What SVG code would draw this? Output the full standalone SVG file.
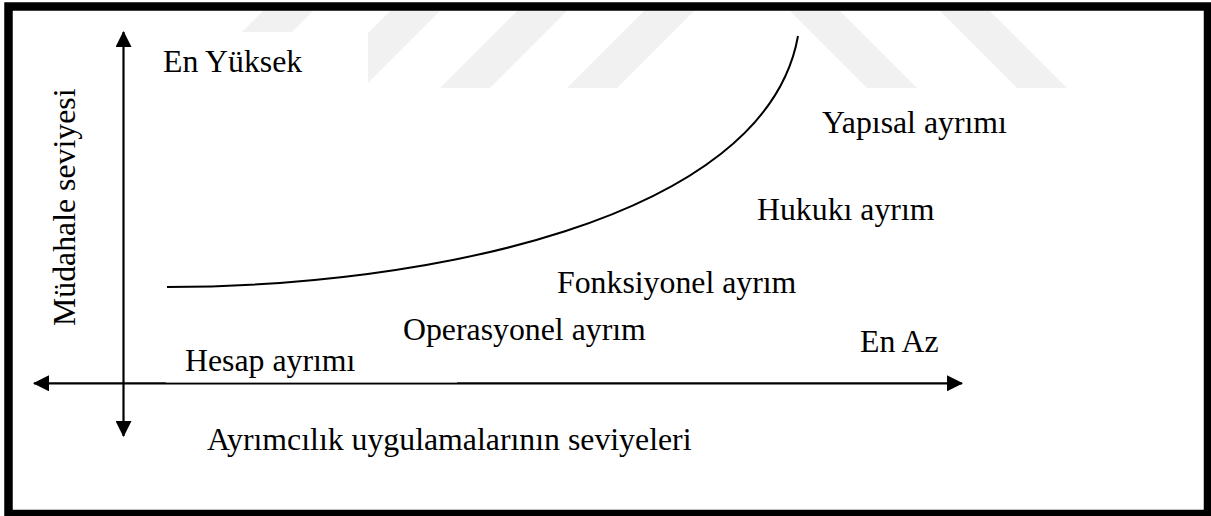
<svg xmlns="http://www.w3.org/2000/svg" width="1211" height="516" viewBox="0 0 1211 516">
  <style>
    .t { font-family: "Liberation Serif", "Times New Roman", serif; font-size: 31.8px; fill: #000; }
    .wm { fill: #f1f1f1; }
    .ax { stroke: #000; stroke-width: 2.2; fill: none; }
  </style>
  <defs>
    <marker id="ah" viewBox="0 0 16 16" refX="15" refY="8" markerWidth="16" markerHeight="16" markerUnits="userSpaceOnUse" orient="auto-start-reverse">
      <path d="M0,0 L16,8 L0,16 Z" fill="#000"/>
    </marker>
  </defs>
  <rect width="1211" height="516" fill="#fff"/>
  <g id="watermark">
    <polygon class="wm" points="264,10 314,10 236,88 186,88"/>
    <polygon class="wm" points="391,10 441,10 363,88 313,88"/>
    <polygon class="wm" points="518,10 568,10 490,88 440,88"/>
    <polygon class="wm" points="645,10 695,10 617,88 567,88"/>
    <polygon class="wm" points="789,10 839,10 917,88 867,88"/>
    <polygon class="wm" points="939,10 989,10 1067,88 1017,88"/>
  </g>
  <rect id="frame" x="8.5" y="6.5" width="1199.5" height="507.5" fill="none" stroke="#000" stroke-width="8.5"/>
  <g id="connectors">
    <line id="x-axis" class="ax" x1="962" y1="383.3" x2="34" y2="383.3" marker-start="url(#ah)" marker-end="url(#ah)"/>
    <line id="y-axis" class="ax" x1="123.5" y1="436" x2="123.5" y2="32" marker-start="url(#ah)" marker-end="url(#ah)"/>
    <path id="curve" d="M167,287 C420,287 765,222 798,36" fill="none" stroke="#000" stroke-width="2"/>
  </g>
  <g id="node-en-yuksek">
    <rect x="150" y="32" width="218" height="65" fill="#fff"/>
    <text class="t" x="163" y="72">En Yüksek</text>
  </g>
  <g id="node-hesap">
    <rect x="166" y="345" width="291" height="37.5" fill="#fff"/>
    <text class="t" x="185" y="371">Hesap ayrımı</text>
  </g>
  <g id="node-operasyonel">
    <text class="t" x="403" y="340">Operasyonel ayrım</text>
  </g>
  <g id="node-fonksiyonel">
    <text class="t" x="557" y="293">Fonksiyonel ayrım</text>
  </g>
  <g id="node-hukuki">
    <text class="t" x="757" y="220">Hukukı ayrım</text>
  </g>
  <g id="node-yapisal">
    <text class="t" x="822" y="133">Yapısal ayrımı</text>
  </g>
  <g id="node-en-az">
    <text class="t" x="860" y="352">En Az</text>
  </g>
  <g id="label-x">
    <text class="t" x="207" y="450">Ayrımcılık uygulamalarının seviyeleri</text>
  </g>
  <g id="label-y">
    <text class="t" transform="translate(75,326) rotate(-90)">Müdahale seviyesi</text>
  </g>
</svg>
